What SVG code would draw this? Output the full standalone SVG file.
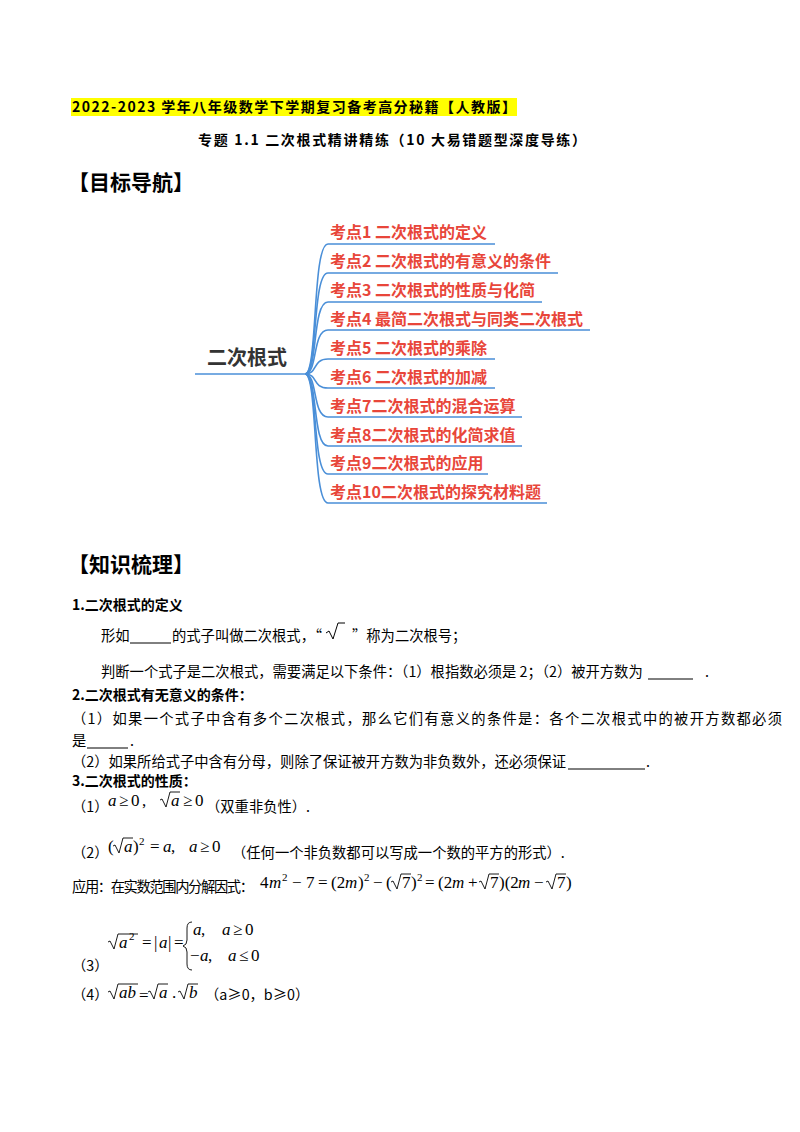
<svg xmlns="http://www.w3.org/2000/svg" width="800" height="1132" viewBox="0 0 800 1132">
<style>
.t{font-family:"Noto Sans CJK SC","Liberation Serif",serif;font-size:14.3px;fill:#000}
.b{font-family:"Noto Sans CJK SC","Liberation Serif",sans-serif;font-size:14px;font-weight:bold;fill:#000}
.h{font-family:"Noto Sans CJK SC",sans-serif;font-size:21px;font-weight:bold;fill:#000}
.k{font-family:"Noto Sans CJK SC",sans-serif;font-size:16px;font-weight:bold;fill:#e8463a}
.m{font-family:"Liberation Serif",serif;font-size:17px;fill:#000}
.s{font-family:"Liberation Serif",serif;font-size:11px;fill:#000}
.i{font-style:italic}
.br{fill:none;stroke:#4a8fd8;stroke-width:1.6}
.u{stroke:#000;stroke-width:1}
.r{fill:none;stroke:#000;stroke-width:0.9}
</style>
<defs><path id="rad" d="M0 -6 l2 -1 l4 8 l4 -15"/></defs>
<rect width="800" height="1132" fill="#fff"/>
<rect x="71" y="98" width="446" height="18" fill="#ffff00"/>
<text x="72" y="112" class="b" font-size="15" textLength="444">2022-2023 学年八年级数学下学期复习备考高分秘籍【人教版】</text>
<text x="198" y="145" class="b" font-size="15.5" textLength="388">专题 1.1 二次根式精讲精练（10 大易错题型深度导练）</text>
<text x="68" y="190" class="h">【目标导航】</text>
<g id="root"><text x="207" y="365" font-family="Noto Sans CJK SC,sans-serif" font-size="20" font-weight="bold" fill="#333">二次根式</text>
<line x1="195" y1="374" x2="305" y2="374" class="br"/></g>
<g id="connectors">
<path class="br" d="M305 374 C318 374,312 244,328 244 H495"/>
<path class="br" d="M305 374 C318 374,312 273,328 273 H558"/>
<path class="br" d="M305 374 C318 374,312 302,328 302 H542"/>
<path class="br" d="M305 374 C318 374,312 330,328 330 H590"/>
<path class="br" d="M305 374 C318 374,312 359,328 359 H495"/>
<path class="br" d="M305 374 C318 374,312 388,328 388 H495"/>
<path class="br" d="M305 374 C318 374,312 417,328 417 H522"/>
<path class="br" d="M305 374 C318 374,312 446,328 446 H522"/>
<path class="br" d="M305 374 C318 374,312 474,328 474 H488"/>
<path class="br" d="M305 374 C318 374,312 503,328 503 H547"/>
</g>
<g id="k1"><text x="330" y="238" class="k">考点1 二次根式的定义</text></g>
<g id="k2"><text x="330" y="267" class="k">考点2 二次根式的有意义的条件</text></g>
<g id="k3"><text x="330" y="296" class="k">考点3 二次根式的性质与化简</text></g>
<g id="k4"><text x="330" y="325" class="k">考点4 最简二次根式与同类二次根式</text></g>
<g id="k5"><text x="330" y="354" class="k">考点5 二次根式的乘除</text></g>
<g id="k6"><text x="330" y="383" class="k">考点6 二次根式的加减</text></g>
<g id="k7"><text x="330" y="412" class="k">考点7二次根式的混合运算</text></g>
<g id="k8"><text x="330" y="441" class="k">考点8二次根式的化简求值</text></g>
<g id="k9"><text x="330" y="469" class="k">考点9二次根式的应用</text></g>
<g id="k10"><text x="330" y="498" class="k">考点10二次根式的探究材料题</text></g>
<text x="68" y="572" class="h">【知识梳理】</text>
<text x="72" y="610" class="b">1.二次根式的定义</text>
<text x="101" y="641" class="t">形如</text><line x1="130" y1="643" x2="171" y2="643" class="u"/>
<text x="172" y="641" class="t">的式子叫做二次根式，“</text>
<path d="M326 633 l3 -2 l4 8 l5 -16 h7" fill="none" stroke="#000" stroke-width="1"/>
<text x="352" y="641" class="t">”称为二次根号；</text>
<text x="101" y="677" class="t">判断一个式子是二次根式，需要满足以下条件：（1）根指数必须是 2；（2）被开方数为</text>
<line x1="648" y1="679" x2="693" y2="679" class="u"/><text x="705" y="677" class="t">.</text>
<text x="72" y="700" class="b">2.二次根式有无意义的条件：</text>
<text x="72" y="724" class="t" textLength="710">（1）如果一个式子中含有多个二次根式，那么它们有意义的条件是：各个二次根式中的被开方数都必须</text>
<text x="72" y="746" class="t">是</text><line x1="87" y1="748" x2="128" y2="748" class="u"/><text x="130" y="746" class="t">.</text>
<text x="72" y="767" class="t">（2）如果所给式子中含有分母，则除了保证被开方数为非负数外，还必须保证</text>
<line x1="568" y1="769" x2="645" y2="769" class="u"/><text x="646" y="767" class="t">.</text>
<text x="72" y="786" class="b">3.二次根式的性质：</text>
<text x="72" y="812" class="t">（1）</text>
<text class="m" y="806"><tspan x="108" class="i">a</tspan><tspan x="119">≥</tspan><tspan x="131">0</tspan><tspan x="142">,</tspan></text>
<use href="#rad" x="160" y="806" class="r"/><line x1="170" y1="792" x2="180" y2="792" class="r"/>
<text class="m" y="806"><tspan x="171" class="i">a</tspan><tspan x="183">≥</tspan><tspan x="195">0</tspan></text>
<text x="206" y="812" class="t">（双重非负性）.</text>
<text x="72" y="858" class="t">（2）</text>
<text class="m" y="852"><tspan x="108">(</tspan><tspan x="124" class="i">a</tspan><tspan x="133">)</tspan><tspan x="150">=</tspan><tspan x="163" class="i">a</tspan><tspan x="171">,</tspan><tspan x="189" class="i">a</tspan><tspan x="200">≥</tspan><tspan x="212">0</tspan></text>
<text class="s" x="139" y="845">2</text>
<use href="#rad" x="113" y="852" class="r"/><line x1="123" y1="838" x2="133" y2="838" class="r"/>
<text x="232" y="858" class="t">（任何一个非负数都可以写成一个数的平方的形式）.</text>
<text x="72" y="892" class="t" textLength="182">应用：在实数范围内分解因式：</text>
<text class="m" y="888"><tspan x="260">4</tspan><tspan x="269" class="i">m</tspan><tspan x="292">−</tspan><tspan x="306">7</tspan><tspan x="318">=</tspan><tspan x="331">(2</tspan><tspan x="345" class="i">m</tspan><tspan x="358">)</tspan><tspan x="373">−</tspan><tspan x="386">(</tspan><tspan x="402">7</tspan><tspan x="411">)</tspan><tspan x="425">=</tspan><tspan x="438">(2</tspan><tspan x="452" class="i">m</tspan><tspan x="468">+</tspan><tspan x="490">7</tspan><tspan x="499">)(2</tspan><tspan x="518" class="i">m</tspan><tspan x="534">−</tspan><tspan x="557">7</tspan><tspan x="566">)</tspan></text>
<text class="s" y="881"><tspan x="282">2</tspan><tspan x="364">2</tspan><tspan x="417">2</tspan></text>
<use href="#rad" x="391" y="888" class="r"/><line x1="401" y1="874" x2="411" y2="874" class="r"/>
<use href="#rad" x="479" y="888" class="r"/><line x1="489" y1="874" x2="499" y2="874" class="r"/>
<use href="#rad" x="546" y="888" class="r"/><line x1="556" y1="874" x2="566" y2="874" class="r"/>
<text x="72" y="971" class="t">（3）</text>
<use href="#rad" x="108" y="948" class="r"/><line x1="118" y1="934" x2="138" y2="934" class="r"/>
<text class="m" y="948"><tspan x="119" class="i">a</tspan><tspan x="142">=</tspan><tspan x="154">|</tspan><tspan x="159" class="i">a</tspan><tspan x="168">|</tspan><tspan x="174">=</tspan></text>
<text class="s" x="129" y="940">2</text>
<path d="M192 922 q-5 0 -5 6 v12 q0 5 -4 6 q4 1 4 6 v12 q0 6 5 6" class="r"/>
<text class="m" y="935"><tspan x="193" class="i">a</tspan><tspan x="201">,</tspan><tspan x="222" class="i">a</tspan><tspan x="233">≥</tspan><tspan x="245">0</tspan></text>
<text class="m" y="961"><tspan x="190">−</tspan><tspan x="200" class="i">a</tspan><tspan x="208">,</tspan><tspan x="228" class="i">a</tspan><tspan x="239">≤</tspan><tspan x="251">0</tspan></text>
<text x="72" y="1000" class="t">（4）</text>
<use href="#rad" x="108" y="998" class="r"/><line x1="118" y1="984" x2="138" y2="984" class="r"/>
<text class="m i" x="119" y="998">ab</text>
<text x="139" y="1001" class="m" font-size="13">=</text>
<use href="#rad" x="148" y="998" class="r"/><line x1="158" y1="984" x2="168" y2="984" class="r"/>
<text class="m" y="998"><tspan x="159" class="i">a</tspan><tspan x="172">.</tspan></text>
<use href="#rad" x="178" y="998" class="r"/><line x1="188" y1="984" x2="198" y2="984" class="r"/>
<text class="m i" x="189" y="998">b</text>
<text x="205" y="1000" class="t" font-size="12">（a≥0，b≥0）</text>
</svg>
